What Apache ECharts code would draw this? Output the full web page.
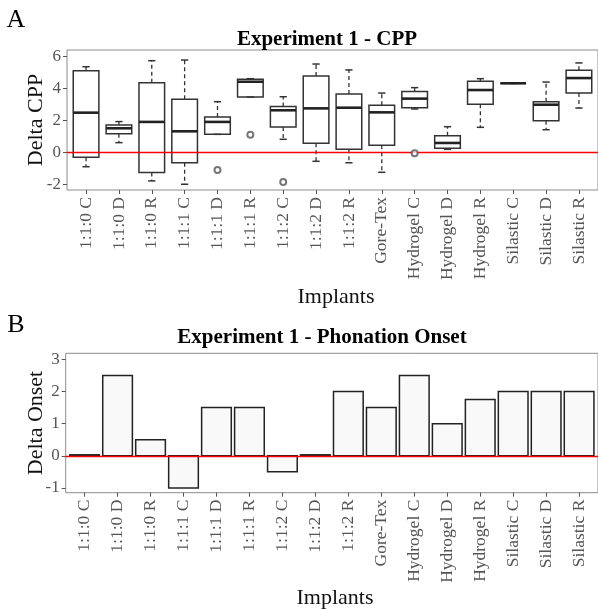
<!DOCTYPE html>
<html>
<head>
<meta charset="utf-8">
<script src="https://cdn.jsdelivr.net/npm/echarts@6/dist/echarts.min.js"></script>
<style>html,body{margin:0;padding:0;background:#fff;}#c{width:598px;height:609px;}</style>
</head>
<body>
<div id="c"></div>
<script>
// ---- data ----
const categories = ['1:1:0 C','1:1:0 D','1:1:0 R','1:1:1 C','1:1:1 D','1:1:1 R','1:1:2 C','1:1:2 D','1:1:2 R','Gore-Tex','Hydrogel C','Hydrogel D','Hydrogel R','Silastic C','Silastic D','Silastic R'];
const cppLow    = [-0.90, 0.61, -1.79, -2.00, 1.13, 3.47, 0.82, -0.56, -0.65, -1.25, 2.72, 0.19, 1.57, 4.33, 1.42, 2.78];
const cppQ1     = [-0.31, 1.17, -1.27, -0.65, 1.13, 3.47, 1.59, 0.57, 0.19, 0.45, 2.80, 0.26, 3.02, 4.33, 1.99, 3.72];
const cppMedian = [2.49, 1.51, 1.91, 1.32, 1.91, 4.43, 2.64, 2.76, 2.80, 2.51, 3.37, 0.59, 3.91, 4.33, 2.99, 4.66];
const cppQ3     = [5.12, 1.72, 4.37, 3.33, 2.22, 4.58, 2.87, 4.79, 3.66, 2.95, 3.81, 1.05, 4.46, 4.33, 3.18, 5.15];
const cppHigh   = [5.37, 1.93, 5.75, 5.79, 3.18, 4.62, 3.49, 5.54, 5.17, 3.72, 4.06, 1.61, 4.62, 4.33, 4.41, 5.61];
const cppOutlierCategory = ['1:1:1 D', '1:1:1 R', '1:1:2 C', 'Hydrogel C'];
const cppOutlierValue    = [-1.10, 1.11, -1.86, -0.06];
const onsetValues = [0.03, 2.5, 0.5, -1, 1.5, 1.5, -0.5, 0.03, 2, 1.5, 2.5, 1, 1.75, 2, 2, 2];
const cppTicks = [-2, 0, 2, 4, 6];
const onsetTicks = [-1, 0, 1, 2, 3];

// ---- chart ----
const FONT = 'Liberation Serif';
const positions = categories.map((c, i) => i + 1);
const chart = echarts.init(document.getElementById('c'), null, {renderer: 'canvas'});

function xAxisCfg(gridIndex, min, max) {
  return {
    gridIndex, type: 'value', min, max,
    axisLine: {show: false, onZero: false},
    splitLine: {show: false},
    axisTick: {show: true, customValues: positions, length: 4, lineStyle: {color: '#555', width: 1}},
    axisLabel: {
      customValues: positions, rotate: 90, margin: 7,
      formatter: v => categories[Math.round(v) - 1],
      fontFamily: FONT, fontSize: 17.5, color: '#555'
    }
  };
}
function yAxisCfg(gridIndex, min, max, ticks) {
  return {
    gridIndex, type: 'value', min, max,
    axisLine: {show: false, onZero: false},
    splitLine: {show: false},
    axisTick: {show: true, customValues: ticks, length: 4, lineStyle: {color: '#555', width: 1}},
    axisLabel: {customValues: ticks, margin: 6, fontFamily: FONT, fontSize: 17, color: '#555'}
  };
}
const redLine = {
  silent: true, symbol: ['none', 'none'], label: {show: false},
  lineStyle: {color: '#ff0000', width: 1.4, type: 'solid'},
  data: [{yAxis: 0}], animation: false
};

const option = {
  animation: false,
  grid: [
    {left: 67, top: 50, width: 538.6, height: 140, show: true, borderColor: '#8c8c8c', borderWidth: 1, backgroundColor: 'transparent'},
    {left: 65.7, top: 353.3, width: 538.2, height: 139.4, show: true, borderColor: '#8c8c8c', borderWidth: 1, backgroundColor: 'transparent'}
  ],
  xAxis: [xAxisCfg(0, 0.42, 16.58), xAxisCfg(1, 0.427, 16.573)],
  yAxis: [yAxisCfg(0, -2.36, 6.42, cppTicks), yAxisCfg(1, -1.15, 3.19, onsetTicks)],
  graphic: [
    {type: 'text', style: {text: 'A', x: 16, y: 20, textAlign: 'center', textVerticalAlign: 'middle', font: '26px "Liberation Serif"', fill: '#000'}},
    {type: 'text', style: {text: 'Experiment 1 - CPP', x: 327, y: 40, textAlign: 'center', textVerticalAlign: 'middle', font: 'bold 21px "Liberation Serif"', fill: '#000'}},
    {type: 'text', rotation: Math.PI / 2, x: 36, y: 120, style: {text: 'Delta CPP', x: 0, y: 0, textAlign: 'center', textVerticalAlign: 'middle', font: '22px "Liberation Serif"', fill: '#111'}},
    {type: 'text', style: {text: 'Implants', x: 336, y: 297, textAlign: 'center', textVerticalAlign: 'middle', font: '22px "Liberation Serif"', fill: '#111'}},
    {type: 'text', style: {text: 'B', x: 16, y: 325, textAlign: 'center', textVerticalAlign: 'middle', font: '26px "Liberation Serif"', fill: '#000'}},
    {type: 'text', style: {text: 'Experiment 1 - Phonation Onset', x: 322, y: 338, textAlign: 'center', textVerticalAlign: 'middle', font: 'bold 21px "Liberation Serif"', fill: '#000'}},
    {type: 'text', rotation: Math.PI / 2, x: 36, y: 423, style: {text: 'Delta Onset', x: 0, y: 0, textAlign: 'center', textVerticalAlign: 'middle', font: '22px "Liberation Serif"', fill: '#111'}},
    {type: 'text', style: {text: 'Implants', x: 335, y: 598, textAlign: 'center', textVerticalAlign: 'middle', font: '22px "Liberation Serif"', fill: '#111'}}
  ],
  series: [
    {
      type: 'custom', xAxisIndex: 0, yAxisIndex: 0,
      data: categories.map((c, i) => [i + 1, cppLow[i], cppQ1[i], cppMedian[i], cppQ3[i], cppHigh[i]]),
      encode: {x: 0, y: [1, 2, 3, 4, 5]},
      renderItem: function (params, api) {
        const x = api.value(0);
        const pLow = api.coord([x, api.value(1)]);
        const pQ1 = api.coord([x, api.value(2)]);
        const pMed = api.coord([x, api.value(3)]);
        const pQ3 = api.coord([x, api.value(4)]);
        const pHigh = api.coord([x, api.value(5)]);
        const hw = api.size([0.39, 0])[0];
        const cw = api.size([0.11, 0])[0];
        const cx = pMed[0];
        const stroke = '#333';
        const ch = [];
        if (pHigh[1] < pQ3[1] - 0.5) ch.push({type: 'line', shape: {x1: cx, y1: pQ3[1], x2: cx, y2: pHigh[1]}, style: {stroke, lineWidth: 1.3, lineDash: [4, 3]}});
        if (pLow[1] > pQ1[1] + 0.5) ch.push({type: 'line', shape: {x1: cx, y1: pQ1[1], x2: cx, y2: pLow[1]}, style: {stroke, lineWidth: 1.3, lineDash: [4, 3]}});
        ch.push({type: 'line', shape: {x1: cx - cw, y1: pHigh[1], x2: cx + cw, y2: pHigh[1]}, style: {stroke, lineWidth: 1.5}});
        ch.push({type: 'line', shape: {x1: cx - cw, y1: pLow[1], x2: cx + cw, y2: pLow[1]}, style: {stroke, lineWidth: 1.5}});
        ch.push({type: 'rect', shape: {x: cx - hw, y: pQ3[1], width: 2 * hw, height: pQ1[1] - pQ3[1]}, style: {fill: 'transparent', stroke, lineWidth: 1.5}});
        ch.push({type: 'line', shape: {x1: cx - hw, y1: pMed[1], x2: cx + hw, y2: pMed[1]}, style: {stroke: '#222', lineWidth: 2.6}});
        return {type: 'group', children: ch};
      }
    },
    {
      type: 'scatter', xAxisIndex: 0, yAxisIndex: 0,
      symbol: 'emptyCircle', symbolSize: 6,
      itemStyle: {color: '#555', borderColor: '#555', borderWidth: 0.9},
      data: cppOutlierCategory.map((c, i) => [categories.indexOf(c) + 1, cppOutlierValue[i]]),
      markLine: redLine, z: 5
    },
    {
      type: 'custom', xAxisIndex: 1, yAxisIndex: 1,
      data: categories.map((c, i) => [i + 1, onsetValues[i]]),
      encode: {x: 0, y: 1},
      renderItem: function (params, api) {
        const x = api.value(0);
        const p1 = api.coord([x - 0.45, api.value(1)]);
        const p0 = api.coord([x + 0.45, 0]);
        const top = Math.min(p1[1], p0[1]);
        const h = Math.abs(p0[1] - p1[1]);
        return {type: 'rect', shape: {x: p1[0], y: top, width: p0[0] - p1[0], height: h}, style: {fill: '#f9f9f9', stroke: '#222', lineWidth: 1.5}};
      },
      markLine: redLine, z: 3
    }
  ]
};
chart.setOption(option);
</script>
</body>
</html>
